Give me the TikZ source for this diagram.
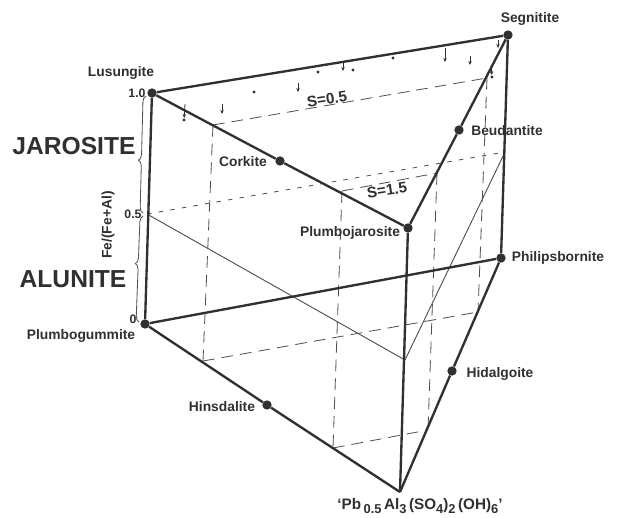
\documentclass[tikz,border=0pt]{standalone}
\usepackage{fontspec}
\setmainfont{Liberation Sans}
\usetikzlibrary{positioning,calc,decorations.pathreplacing,arrows.meta}
\definecolor{InkDark}{RGB}{48, 48, 48}
\definecolor{InkSoft}{RGB}{80, 80, 80}
\newcommand{\lowidx}[1]{\raisebox{-3.5pt}{\fontsize{11}{12}\selectfont #1}}
\tikzset{
  mineral/.style={circle, fill=InkDark, inner sep=0pt, minimum size=2.8mm},
  spot/.style={circle, fill=InkDark, inner sep=0pt, minimum size=1mm},
  namelabel/.style={font=\bfseries\fontsize{11.8}{14}\selectfont, text=InkDark, inner sep=0pt},
  ticklabel/.style={font=\bfseries\fontsize{10.5}{12}\selectfont, text=InkDark, inner sep=0pt},
  biglabel/.style={font=\bfseries\fontsize{21}{24}\selectfont, text=InkDark, inner sep=0pt},
  edge/.style={draw=InkDark, line width=2pt},
  thinedge/.style={draw=InkSoft, line width=0.8pt},
  dashline/.style={draw=InkSoft, line width=0.7pt, dash pattern=on 10pt off 6pt},
  dotline/.style={draw=InkSoft, line width=0.7pt, dash pattern=on 4pt off 6pt},
  fallarrow/.style={draw=InkDark, line width=0.7pt, -{Stealth[length=3.5pt,width=3pt]}},
  brace/.style={draw=InkSoft, line width=0.7pt, decorate},
}
\begin{document}
\begin{tikzpicture}[x=0.3mm, y=-0.3mm]
  \useasboundingbox (0,0) rectangle (617,518);

  % Corner points
  \node[mineral] (lus) at (152,93) {};
  \node[mineral] (seg) at (508,35) {};
  \node[mineral] (pbj) at (408,228) {};
  \node[mineral] (pbg) at (145,324) {};
  \node[mineral] (phi) at (501,258) {};
  \coordinate (bot) at (400,492);

  % Points on the edges
  \node[mineral] (cor) at (280,161) {};
  \node[mineral] (beu) at (459,130) {};
  \node[mineral] (hin) at (267,405) {};
  \node[mineral] (hid) at (452,371) {};

  % Middle section
  \coordinate (midl) at (147,214);
  \coordinate (midr) at (505,152);
  \coordinate (midf) at (405,360);

  % S lines
  \coordinate (ahi) at (213,125);
  \coordinate (bhi) at (487,78);
  \coordinate (alo) at (203,361);
  \coordinate (blo) at (478,312);
  \coordinate (chi) at (342,191);
  \coordinate (dhi) at (437,173);
  \coordinate (clo) at (333,448);
  \coordinate (dlo) at (428,430);

  \draw[dashline] (ahi) -- (bhi);
  \draw[dashline] (alo) -- (blo);
  \draw[dashline] (chi) -- (dhi);
  \draw[dashline] (clo) -- (dlo);
  \draw[dashline] (ahi) -- (alo);
  \draw[dashline] (bhi) -- (blo);
  \draw[dashline] (chi) -- (clo);
  \draw[dashline] (dhi) -- (dlo);

  % Section at 0.5
  \draw[dotline] (midl) -- (midr);
  \draw[thinedge] (midl) -- (midf);
  \draw[thinedge] (midf) -- (midr);

  % Prism
  \draw[edge] (lus) -- (seg);
  \draw[edge] (lus) -- (cor) -- (pbj);
  \draw[edge] (seg) -- (beu) -- (pbj);
  \draw[edge] (lus) -- (pbg);
  \draw[edge] (seg) -- (phi);
  \draw[edge] (pbj) -- (bot);
  \draw[edge] (pbg) -- (phi);
  \draw[edge] (pbg) -- (hin) -- (bot);
  \draw[edge] (phi) -- (hid) -- (bot);

  % Samples
  \node[spot] (sa) at (184,120) {};
  \node[spot] (sb) at (254,92) {};
  \node[spot] (sc) at (318,72) {};
  \node[spot] (sd) at (353,70) {};
  \node[spot] (se) at (393,58) {};
  \node[spot] (sf) at (492,77) {};
  \coordinate (ta) at (185,104);
  \coordinate (ub) at (222,104);
  \coordinate (vb) at (222,114);
  \coordinate (uc) at (298,83);
  \coordinate (vc) at (298,92);
  \coordinate (ud) at (343,63);
  \coordinate (vd) at (343,71);
  \coordinate (ue) at (445,48);
  \coordinate (ve) at (445,62);
  \coordinate (uf) at (470,56);
  \coordinate (vf) at (470,65);
  \coordinate (ug) at (491,66);
  \coordinate (ug2) at (498,40);
  \coordinate (vg2) at (498,48);
  \draw[fallarrow] (ta) -- (sa);
  \draw[fallarrow] (ub) -- (vb);
  \draw[fallarrow] (uc) -- (vc);
  \draw[fallarrow] (ud) -- (vd);
  \draw[fallarrow] (ue) -- (ve);
  \draw[fallarrow] (uf) -- (vf);
  \draw[fallarrow] (ug) -- (sf);
  \draw[fallarrow] (ug2) -- (vg2);

  % Braces
  \draw[brace, decoration={brace, amplitude=5pt, aspect=0.45}] (143,213) -- (146,96);
  \draw[brace, decoration={brace, amplitude=5pt, aspect=0.55}] (139,322) -- (143,216);

  % Labels
  \node[namelabel] (lbllus) at (121,73) {Lusungite};
  \node[namelabel] (lblseg) at (530,19) {Segnitite};
  \node[namelabel] (lblcor) at (243,162) {Corkite};
  \node[namelabel] (lblbeu) at (507,131) {Beudantite};
  \node[namelabel] (lblpbj) at (350,233) {Plumbojarosite};
  \node[namelabel] (lblphi) at (558,258) {Philipsbornite};
  \node[namelabel] (lblhid) at (500,374) {Hidalgoite};
  \node[namelabel] (lblhin) at (222,407) {Hinsdalite};
  \node[namelabel] (lblpbg) at (81,336) {Plumbogummite};
  \node[ticklabel] (one) at (137,93) {1.0};
  \node[ticklabel] (half) at (133,214) {0.5};
  \node[ticklabel] (zero) at (133,319) {0};
  \node[namelabel, rotate=90] (lblfe) at (108,225) {Fe/(Fe+Al)};
  \node[biglabel] (lbljar) at (74,146) {JAROSITE};
  \node[biglabel] (lblalu) at (73,279) {ALUNITE};
  \node[namelabel, rotate=9, font=\bfseries\fontsize{13}{15}\selectfont] (slo) at (327,99) {S=0.5};
  \node[namelabel, rotate=9, font=\bfseries\fontsize{13}{15}\selectfont] (shi) at (387,190) {S=1.5};
  \node[namelabel, font=\bfseries\fontsize{13}{16}\selectfont] (lblform) at (420,506) {`Pb\,\lowidx{0.5}\,Al\lowidx{3}\,(SO\lowidx{4})\lowidx{2}\,(OH)\lowidx{6}'};
\end{tikzpicture}
\end{document}
